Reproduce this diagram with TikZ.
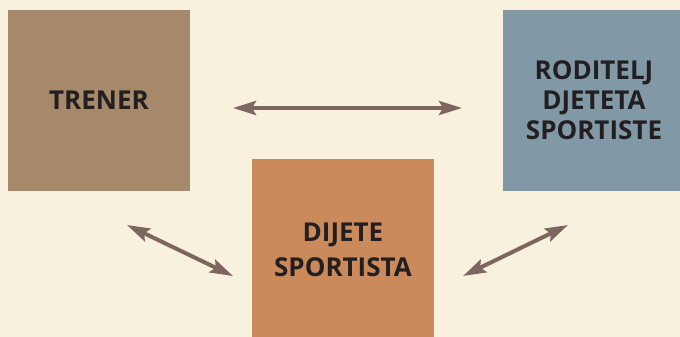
\documentclass[tikz,border=0pt]{standalone}
\usepackage{fontspec}
\setmainfont{Open Sans}
\usetikzlibrary{arrows.meta, positioning}
\definecolor{paper}{HTML}{F7F1DE}
\definecolor{boxTan}{HTML}{A6886A}
\definecolor{boxSlate}{HTML}{8199A6}
\definecolor{boxOrange}{HTML}{CB8A5C}
\definecolor{linkBrown}{HTML}{7D6660}
\definecolor{txtDark}{HTML}{231F20}
\tikzset{
  >=               {Stealth[length=23pt, width=14pt, inset=4pt]},
  box/.style      = {minimum width=182pt, minimum height=181pt, inner sep=0pt,
                     align=center, text=txtDark,
                     font=\bfseries\fontsize{26}{30}\selectfont},
  link/.style     = {<->, line width=4pt, linkBrown},
}

\begin{document}
\begin{tikzpicture}[x=1pt, y=-1pt]
  \fill[paper] (0,0) rectangle (680,337);
  \clip (0,0) rectangle (680,337);

  \node[box, fill=boxTan]    (trener)   at (99,100.5)  {TRENER};
  \node[box, fill=boxSlate]  (roditelj) at (594,100.5) {RODITELJ\\DJETETA\\SPORTISTE};
  \node[box, fill=boxOrange, font=\bfseries\fontsize{26}{35}\selectfont]
                             (dijete)   at (343,249.5) {DIJETE\\SPORTISTA};

  % arrow ends
  \coordinate (tr1) at (233,108);
  \coordinate (ro1) at (462,108);
  \coordinate (tr2) at (127,225);
  \coordinate (dl)  at (233,276);
  \coordinate (dr)  at (463,276);
  \coordinate (ro2) at (568,225);

  \draw[link] (tr1) -- (ro1);
  \draw[link] (tr2) -- (dl);
  \draw[link] (dr) -- (ro2);
\end{tikzpicture}
\end{document}
